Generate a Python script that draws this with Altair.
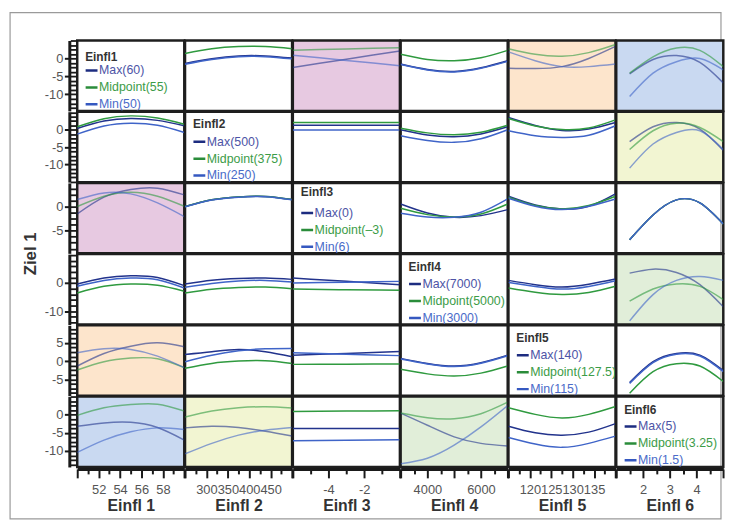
import altair as alt
import pandas as pd

FONT = "Liberation Sans"
AXIS_TITLES = ["Einfl 1", "Einfl 2", "Einfl 3", "Einfl 4", "Einfl 5", "Einfl 6"]
FACTORS = ["Einfl1", "Einfl2", "Einfl3", "Einfl4", "Einfl5", "Einfl6"]
Y_TITLE = "Ziel 1"
LEVELS = ["Max", "Midpoint", "Min"]
LEGEND_LABELS = [
    ["Max(60)", "Midpoint(55)", "Min(50)"],
    ["Max(500)", "Midpoint(375)", "Min(250)"],
    ["Max(0)", "Midpoint(–3)", "Min(6)"],
    ["Max(7000)", "Midpoint(5000)", "Min(3000)"],
    ["Max(140)", "Midpoint(127.5)", "Min(115)"],
    ["Max(5)", "Midpoint(3.25)", "Min(1.5)"],
]

# x positions of the curve points, per column (5-point and 3-point curves)
X5 = [
    [50, 52.5, 55, 57.5, 60],
    [250, 312.5, 375, 437.5, 500],
    [-6, -4.5, -3, -1.5, 0],
    [3000, 4000, 5000, 6000, 7000],
    [115, 121.25, 127.5, 133.75, 140],
    [1.5, 2.375, 3.25, 4.125, 5],
]
X3 = [
    [50, 55, 60],
    [250, 375, 500],
    [-6, -3, 0],
    [3000, 5000, 7000],
    [115, 127.5, 140],
    [1.5, 3.25, 5],
]

# axis setup
X_DOMAINS = [[50, 60], [250, 500], [-6, 0], [3000, 7000], [115, 140], [1, 5]]
X_STEPS = [1, 25, 1, 500, 2.5, 0.5]
X_MAJOR = [2, 50, 2, 1000, 5, 1]
X_LABELS = [[52, 54, 56, 58], [300, 350, 400, 450], [-4, -2], [4000, 6000],
            [120, 125, 130, 135], [2, 3, 4]]
Y_DOMAINS = [[-14.6, 5.0], [-15.1, 5.2], [-9.7, 4.9], [-14.8, 10.3], [-9.5, 9.8], [-14.4, 5.0]]
Y_STEPS = [1.25, 1.25, 1.25, 2, 1.25, 1.25]
Y_LABELS = [[0, -5, -10], [0, -5, -10], [0, -5], [0, -10], [5, 0, -5], [0, -5, -10]]

# curve values (Ziel 1) per panel: row factor vs column factor
P12 = dict(Max=[-1.4, -0.1, 0.7, 0.7, 0.1], Midpoint=[1.4, 2.7, 3.3, 3.3, 2.7], Min=[-1.6, -0.3, 0.5, 0.5, -0.1])
P13 = dict(Max=[-2.5, -0.2, 2.1], Midpoint=[2.3, 2.65, 3.0], Min=[0.9, -0.55, -2.0])
P14 = dict(Max=[-1.55, -3.08, -3.6, -2.6, -0.63], Midpoint=[1.17, -0.27, -0.63, 0.19, 2.26], Min=[-1.7, -3.2, -3.75, -2.75, -0.8])
P15 = dict(Max=[-2.72, -2.8, -2.27, 0.0, 3.36], Midpoint=[2.72, 1.17, 0.63, 1.63, 3.9], Min=[1.83, -0.63, -2.27, -2.27, -1.55])
P16 = dict(Max=[-4.27, -0.3, 0.82, -1.1, -6.8], Midpoint=[-4.09, 0.45, 2.9, 2.27, -2.27], Min=[-10.6, -4.09, -0.9, 0.0, -3.2])

P21 = dict(Max=[0.37, 2.5, 3.23, 2.7, 1.14], Midpoint=[0.86, 3.2, 4.0, 3.4, 1.6], Min=[-1.26, 1.1, 1.9, 1.3, -0.77])
P23 = dict(Max=[1.3, 1.3, 1.3], Midpoint=[2.09, 2.09, 2.09], Min=[-0.1, -0.1, -0.1])
P24 = dict(Max=[0.0, -1.5, -2.0, -1.2, 0.86], Midpoint=[0.46, -0.9, -1.43, -0.7, 1.31], Min=[-1.71, -3.1, -3.63, -2.6, 0.0])
P25 = dict(Max=[3.51, 1.2, -0.2, 0.2, 2.09], Midpoint=[3.23, 1.1, 0.05, 0.5, 2.86], Min=[-0.29, -1.7, -2.2, -1.6, 1.14])
P26 = dict(Max=[-3.43, 0.86, 2.09, 0.17, -6.0], Midpoint=[-5.7, -0.29, 1.89, 0.66, -3.43], Min=[-11.06, -4.11, -0.77, -0.29, -5.71])

P31 = dict(Max=[-1.54, 1.94, 3.54, 3.81, 2.42], Midpoint=[0.0, 2.15, 2.98, 2.15, 0.06], Min=[1.46, 2.83, 2.63, 0.75, -2.08])
P32 = dict(Max=[0.0, 1.4, 2.0, 2.1, 1.46], Midpoint=[0.0, 1.4, 2.0, 2.1, 1.46], Min=[-0.05, 1.35, 1.95, 2.05, 1.4])
P34 = dict(Max=[0.54, -1.33, -2.23, -1.88, -0.63], Midpoint=[-0.35, -1.67, -2.17, -1.54, 0.54], Min=[-1.4, -2.17, -2.23, -1.19, 1.58])
P35 = dict(Max=[2.15, 0.33, -0.5, 0.06, 2.63], Midpoint=[1.94, 0.2, -0.5, 0.2, 2.15], Min=[1.73, 0.06, -0.63, 0.06, 1.58])
P36 = dict(Max=[-6.88, -1.75, 1.38, 0.75, -3.63], Midpoint=[-6.88, -1.75, 1.38, 0.75, -3.63], Min=[-6.88, -1.75, 1.38, 0.75, -3.63])

P41 = dict(Max=[-0.35, 1.77, 2.6, 2.0, -0.94], Midpoint=[-3.53, -1.18, -0.35, -0.82, -2.94], Min=[-1.18, 0.9, 1.77, 1.2, -1.77])
P42 = dict(Max=[-0.35, 1.0, 1.6, 1.77, 1.3], Midpoint=[-3.53, -2.2, -1.6, -1.41, -2.0], Min=[-1.53, -0.2, 0.7, 0.94, 0.35])
P43 = dict(Max=[1.77, 0.6, -0.59], Midpoint=[-2.12, -2.4, -2.59], Min=[0.0, 0.3, 0.59])
P45 = dict(Max=[0.94, -0.59, -1.41, -0.4, 1.41], Midpoint=[-1.77, -3.3, -4.12, -3.4, -1.18], Min=[0.24, -1.2, -2.12, -1.2, 0.82])
P46 = dict(Max=[3.53, 4.95, 3.77, -0.59, -8.48], Midpoint=[-6.48, -2.12, -0.35, -1.18, -5.89], Min=[-13.5, -4.12, 0.94, 2.35, 0.94])

P51 = dict(Max=[-1.36, 2.1, 4.09, 5.01, 3.92], Midpoint=[-2.45, -0.16, 0.82, 0.65, -1.8], Min=[2.29, 3.38, 3.19, 1.36, -1.8])
P52 = dict(Max=[1.83, 2.56, 3.19, 2.56, 1.2], Midpoint=[-1.99, -0.63, 0.0, 0.1, -0.63], Min=[-0.16, 1.63, 2.83, 3.38, 3.46])
P53 = dict(Max=[1.6, 2.1, 2.6], Midpoint=[-0.9, -0.85, -0.8], Min=[2.3, 1.9, 1.5])
P54 = dict(Max=[0.74, -0.63, -1.36, -0.45, 1.63], Midpoint=[-2.26, -3.5, -4.09, -3.3, -1.36], Min=[0.55, -0.8, -1.5, -0.6, 1.45])
P56 = dict(Max=[-5.89, -0.16, 2.1, 1.63, -2.62], Midpoint=[-8.8, -2.9, -0.71, -1.36, -5.6], Min=[-6.1, -0.4, 1.9, 1.4, -2.9])

P61 = dict(Max=[-3.18, -2.27, -2.09, -3.54, -7.0], Midpoint=[-0.18, 1.9, 2.8, 2.9, 1.0], Min=[-10.4, -7.0, -4.72, -3.63, -4.09])
P62 = dict(Max=[-3.63, -3.18, -3.54, -4.54, -5.9], Midpoint=[-0.64, 1.0, 1.9, 2.18, 1.82], Min=[-10.8, -7.9, -5.63, -4.27, -3.54])
P63 = dict(Max=[-3.8, -3.8, -3.8], Midpoint=[0.9, 1.0, 1.1], Min=[-7.2, -7.05, -6.9])
P64 = dict(Max=[0.45, -2.9, -6.1, -7.9, -8.6], Midpoint=[0.45, -0.82, -1.09, 0.27, 3.45], Min=[-13.5, -12.0, -8.4, -3.36, 2.54])
P65 = dict(Max=[-3.18, -5.0, -5.63, -4.8, -2.45], Midpoint=[1.9, 0.09, -0.9, 0.09, 2.27], Min=[-6.27, -8.1, -9.0, -7.9, -5.9])

PANELS = {
    (0, 1): P12, (0, 2): P13, (0, 3): P14, (0, 4): P15, (0, 5): P16,
    (1, 0): P21, (1, 2): P23, (1, 3): P24, (1, 4): P25, (1, 5): P26,
    (2, 0): P31, (2, 1): P32, (2, 3): P34, (2, 4): P35, (2, 5): P36,
    (3, 0): P41, (3, 1): P42, (3, 2): P43, (3, 4): P45, (3, 5): P46,
    (4, 0): P51, (4, 1): P52, (4, 2): P53, (4, 3): P54, (4, 5): P56,
    (5, 0): P61, (5, 1): P62, (5, 2): P63, (5, 3): P64, (5, 4): P65,
}

PINK, PEACH, BLUE, YELLOW, GREEN = "#e7c9e1", "#fde5cc", "#c9d9f1", "#f2f5d2", "#e1eed9"
SHADED = {(0, 2): PINK, (2, 0): PINK, (0, 4): PEACH, (4, 0): PEACH,
          (0, 5): BLUE, (5, 0): BLUE, (1, 5): YELLOW, (5, 1): YELLOW,
          (3, 5): GREEN, (5, 3): GREEN}

LINE_COLORS = ["#22338c", "#2f9a3f", "#3f64c8"]
DASH_COLORS = ["#1d2c80", "#2a8c3a", "#3558c0"]
TEXT_COLORS = ["#4d54a6", "#3c9c48", "#4a6bc9"]
LEGEND_TITLE_Y = [17, 12, 9.5, 13.5, 12.5, 14]
LEGEND_ITEM_Y = [30.3, 47.5, 64.5]

W, H = 108.25, 71.2


def tick_values(domain, step):
    lo, hi = domain
    k0 = int(-(-lo // step))
    k1 = int(hi // step)
    return [round(k * step, 6) for k in range(k0, k1 + 1)]


def x_axis(c):
    labs = ",".join(str(v) for v in X_LABELS[c])
    return alt.Axis(
        values=tick_values(X_DOMAINS[c], X_STEPS[c]),
        labelExpr=f"indexof([{labs}], datum.value) >= 0 ? '' + datum.value : ''",
        tickSize={"condition": {"test": f"abs(datum.value % {X_MAJOR[c]}) < 1e-6", "value": 9}, "value": 5},
        labelOverlap=False, labelFlush=False, offset=2, labelPadding=5.5,
        title=AXIS_TITLES[c], titlePadding=2,
    )


def y_axis_main(r):
    kw = {}
    if r == 2:
        kw = dict(title=Y_TITLE, titleX=-30, titleY=H, titleAngle=270,
                  titleAlign="center", titleBaseline="bottom", titleFontSize=17)
    return alt.Axis(
        orient="left", values=Y_LABELS[r],
        labelExpr="'' + datum.value",
        tickSize=5, labelOverlap=False, labelFlush=False, offset=8, labelPadding=1.5,
        domainWidth=3, tickWidth=2,
        **kw,
    )


def y_axis_rungs(r):
    return alt.Axis(
        orient="left", values=tick_values(Y_DOMAINS[r], Y_STEPS[r]),
        labels=False, domain=False, tickSize=7, tickWidth=1.8, offset=0, title=None,
    )


def scales(r, c):
    xs = alt.Scale(domain=X_DOMAINS[c], nice=False, zero=False)
    ys = alt.Scale(domain=Y_DOMAINS[r], nice=False, zero=False)
    return xs, ys


def enc_x(r, c):
    xs, _ = scales(r, c)
    xa = x_axis(c) if r == 5 else None
    return alt.X("x:Q", scale=xs, axis=xa, title=AXIS_TITLES[c] if r == 5 else None)


def enc_y(r, c, rungs=False):
    _, ys = scales(r, c)
    if c != 0:
        return alt.Y("y:Q", scale=ys, axis=None, title=None)
    if rungs:
        return alt.Y("y:Q", scale=ys, axis=y_axis_rungs(r), title=None)
    return alt.Y("y:Q", scale=ys, axis=y_axis_main(r), title=Y_TITLE if r == 2 else None)


def panel(r, c):
    x, y = enc_x(r, c), enc_y(r, c)
    layers = []
    base = pd.DataFrame({"x": X_DOMAINS[c], "y": Y_DOMAINS[r]})
    if r == c:
        layers.append(alt.Chart(base).mark_point(opacity=0).encode(x=x, y=y))
        one = pd.DataFrame({"k": [0]})
        layers.append(
            alt.Chart(one).mark_text(text=FACTORS[r], align="left", baseline="middle",
                                     font=FONT, fontSize=12, fontWeight="bold", color="#333", clip=True)
            .encode(x=alt.value(8), y=alt.value(LEGEND_TITLE_Y[r]))
        )
        for i, lab in enumerate(LEGEND_LABELS[r]):
            yy = LEGEND_ITEM_Y[i]
            layers.append(
                alt.Chart(one).mark_rule(color=DASH_COLORS[i], strokeWidth=2.5, clip=True)
                .encode(x=alt.value(8.5), x2=alt.value(20.5), y=alt.value(yy))
            )
            layers.append(
                alt.Chart(one).mark_text(text=lab, align="left", baseline="middle", font=FONT,
                                         fontSize=12.5, color=TEXT_COLORS[i], clip=True)
                .encode(x=alt.value(22), y=alt.value(yy))
            )
        if r == 0 and c == 0:
            layers.append(
                alt.Chart(one).mark_rect(fill="#ffffff", fillOpacity=0, stroke="#9a9a9a", strokeWidth=1.2)
                .encode(x=alt.value(-67.9), x2=alt.value(650.9), y=alt.value(-28.1), y2=alt.value(483.7))
            )
    else:
        vals = PANELS[(r, c)]
        rows = []
        for lev in LEVELS:
            ys_ = vals[lev]
            xs_ = X5[c] if len(ys_) == 5 else X3[c]
            for xv, yv in zip(xs_, ys_):
                rows.append({"x": xv, "y": yv, "level": lev})
        df = pd.DataFrame(rows)
        op = 0.6 if (r, c) in SHADED else 1.0
        layers.append(
            alt.Chart(df).mark_line(interpolate="natural", strokeWidth=1.5, opacity=op, clip=True)
            .encode(x=x, y=y,
                    color=alt.Color("level:N", scale=alt.Scale(domain=LEVELS, range=LINE_COLORS), legend=None))
        )
    ch = alt.layer(*layers)
    if c == 0:
        ghost = alt.Chart(base).mark_point(opacity=0).encode(x=x, y=enc_y(r, c, rungs=True))
        ch = alt.layer(*layers, ghost).resolve_axis(y="independent")
    ch = ch.properties(width=W, height=H)
    if (r, c) in SHADED:
        ch = ch.properties(view=alt.ViewBackground(fill=SHADED[(r, c)]))
    return ch


cells = [panel(r, c) for r in range(6) for c in range(6)]

chart = (
    alt.concat(*cells, columns=6, spacing=0, bounds="flush")
    .resolve_scale(x="independent", y="independent")
    .properties(padding=0)
    .configure_view(stroke="#1e1e1e", strokeWidth=2.5)
    .configure_axis(domainColor="#1a1a1a", domainWidth=3, tickColor="#1a1a1a", tickWidth=2,
                    labelColor="#555555", labelFont=FONT, labelFontSize=13,
                    titleFont=FONT, titleFontSize=16, titleFontWeight="bold", titleColor="#333333",
                    grid=False)
)

chart.save("out.html", embed_options={"renderer": "svg", "actions": False})
